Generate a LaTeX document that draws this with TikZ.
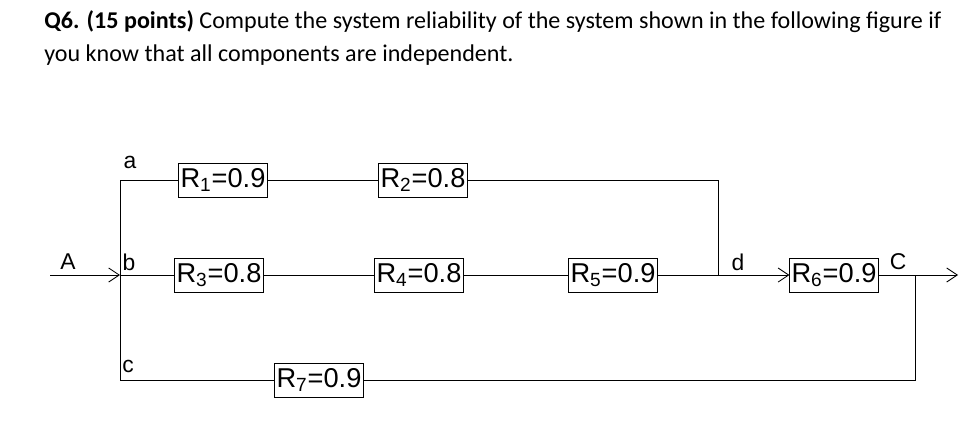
\documentclass[tikz,border=0pt]{standalone}
\usepackage{fontspec}
\setmainfont{Carlito}
\newfontfamily\arialf{Liberation Sans}
\usetikzlibrary{arrows.meta, positioning}

\begin{document}
\begin{tikzpicture}[
    x=0.02cm, y=-0.02cm,
    block/.style={draw, inner sep=1pt, minimum height=0.68cm, font=\arialf\fontsize{15.5}{16}\selectfont},
    lbl/.style={font=\arialf\fontsize{13}{14}\selectfont},
    wire/.style={line width=0.5pt},
    arrow/.style={wire, -{Straight Barb[length=6pt, width=8pt]}}
]
\useasboundingbox (0,0) rectangle (972,420);

% Question text
\node [anchor=base west, inner sep=0, font=\fontsize{13.7}{16}\selectfont] (q1) at (44,28)
  {\textbf{Q6. (15 points)} Compute the system reliability of the system shown in the following figure if};
\node [anchor=base west, inner sep=0, font=\fontsize{13.7}{16}\selectfont] (q2) at (44,61)
  {you know that all components are independent.};

% Nodes
\node (r1) [block] at (223,180) {R\textsubscript{1}=0.9};
\node (r2) [block] at (423,180) {R\textsubscript{2}=0.8};
\node (r3) [block] at (219,275) {R\textsubscript{3}=0.8};
\node (r4) [block] at (419,275) {R\textsubscript{4}=0.8};
\node (r5) [block] at (613,275) {R\textsubscript{5}=0.9};
\node (r6) [block] at (834,275) {R\textsubscript{6}=0.9};
\node (r7) [block] at (319,380) {R\textsubscript{7}=0.9};

% Junctions
\coordinate (in) at (50,275);
\coordinate (ja) at (120,180);
\coordinate (jb) at (120,275);
\coordinate (jc) at (120,380);
\coordinate (jd) at (718,275);
\coordinate (je) at (915,275);
\coordinate (out) at (958,275);

% Labels
\node [lbl] (la) at (130,162) {a};
\node [lbl] (lA) at (68,262) {A};
\node [lbl] (lb) at (129,262) {b};
\node [lbl] (lc) at (128,366) {c};
\node [lbl] (ld) at (738,262) {d};
\node [lbl] (lC) at (898,262) {C};

% Wires
\draw [arrow] (in) -- (jb);
\draw [wire] (ja) -- (jc);
\draw [wire] (ja) -- (r1);
\draw [wire] (r1) -- (r2);
\draw [wire] (r2) -| (jd);
\draw [wire] (jb) -- (r3);
\draw [wire] (r3) -- (r4);
\draw [wire] (r4) -- (r5);
\draw [wire] (r5) -- (jd);
\draw [arrow] (jd) -- (r6);
\draw [arrow] (r6) -- (out);
\draw [wire] (jc) -- (r7);
\draw [wire] (r7) -| (je);
\end{tikzpicture}
\end{document}
